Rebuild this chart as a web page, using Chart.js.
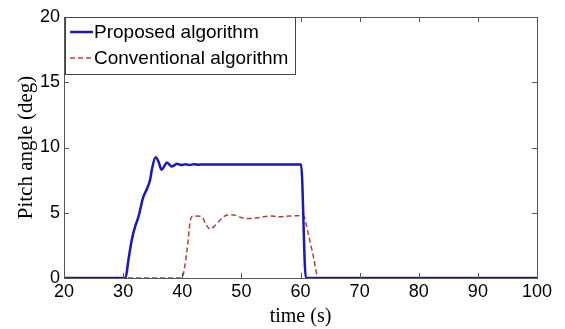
<!DOCTYPE html>
<html>
<head>
<meta charset="utf-8">
<script src="https://cdn.jsdelivr.net/npm/chart.js@4/dist/chart.umd.min.js"></script>
<style>
html,body{margin:0;padding:0;background:#fff;}
#wrap{width:565px;height:329px;position:relative;}
</style>
</head>
<body>
<div id="wrap"><canvas id="c" width="565" height="329"></canvas></div>
<script>
// ---- data ----
const seriesNames = ["Proposed algorithm", "Conventional algorithm"];
const timeProposed = [20, 30.4, 30.9, 31.45, 32.0, 32.6, 33.4, 34.0, 34.55, 34.9, 35.5, 36.0, 36.5, 37.0, 37.4, 37.8, 38.2, 38.7, 39.1, 39.5, 39.9, 40.5, 41.2, 42.0, 42.8, 43.5, 45, 50, 55, 60.1, 60.9, 100];
const valueProposed = [0, 0, 1.4, 2.9, 3.9, 4.7, 6.2, 6.8, 7.5, 8.4, 9.25, 8.9, 8.3, 8.6, 8.85, 8.7, 8.55, 8.65, 8.75, 8.7, 8.65, 8.72, 8.66, 8.72, 8.68, 8.7, 8.7, 8.7, 8.7, 8.7, 0, 0];
const timeConventional = [20, 39.9, 40.8, 41.3, 41.6, 42.2, 43.3, 44.0, 44.7, 45.5, 46.4, 47.2, 48.1, 49.0, 49.8, 51.5, 53.2, 54.9, 56.5, 58, 60.5, 61.3, 62.2, 63.0, 100];
const valueConventional = [0, 0, 2.1, 4.2, 4.7, 4.75, 4.7, 4.1, 3.75, 4.0, 4.45, 4.75, 4.85, 4.8, 4.65, 4.55, 4.65, 4.75, 4.7, 4.75, 4.77, 3.4, 1.6, 0, 0];
const xTicks = [20, 30, 40, 50, 60, 70, 80, 90, 100];
const yTicks = [0, 5, 10, 15, 20];
const xTitle = "time (s)";
const yTitle = "Pitch angle (deg)";

const toPts = (xs, ys) => xs.map((x, i) => ({x: x, y: ys[i]}));

const boxPlugin = {
  id: 'boxPlugin',
  afterDatasetsDraw(chart) {
    const {ctx, chartArea: a, scales} = chart;
    ctx.save();
    ctx.strokeStyle = '#555';
    ctx.lineWidth = 1;
    ctx.strokeRect(a.left + 0.5, a.top + 0.5, a.right - a.left, a.bottom - a.top);
    const tl = 5;
    ctx.beginPath();
    xTicks.forEach(v => {
      const px = Math.round(scales.x.getPixelForValue(v)) + 0.5;
      ctx.moveTo(px, a.bottom); ctx.lineTo(px, a.bottom - tl);
      ctx.moveTo(px, a.top); ctx.lineTo(px, a.top + tl);
    });
    yTicks.forEach(v => {
      const py = Math.round(scales.y.getPixelForValue(v)) + 0.5;
      ctx.moveTo(a.left, py); ctx.lineTo(a.left + tl, py);
      ctx.moveTo(a.right, py); ctx.lineTo(a.right - tl, py);
    });
    ctx.stroke();
    // legend box
    const lx = a.left + 1, ly = a.top, lw = 230, lh = 57;
    ctx.fillStyle = '#fff';
    ctx.fillRect(lx, ly, lw, lh);
    ctx.strokeStyle = '#444';
    ctx.strokeRect(lx + 0.5, ly + 0.5, lw, lh);
    ctx.font = '19px "Liberation Sans", Arial, sans-serif';
    ctx.textBaseline = 'middle';
    ctx.fillStyle = '#000';
    chart.data.datasets.forEach((ds, i) => {
      const yy = ly + 15 + i * 26;
      ctx.save();
      ctx.strokeStyle = ds.borderColor;
      ctx.lineWidth = ds.borderWidth;
      ctx.setLineDash(ds.borderDash || []);
      ctx.beginPath();
      ctx.moveTo(lx + 5, yy); ctx.lineTo(lx + 28, yy);
      ctx.stroke();
      ctx.restore();
      ctx.fillText(ds.label, lx + 29, yy + 1);
    });
    ctx.restore();
  }
};

new Chart(document.getElementById('c'), {
  type: 'line',
  data: {
    datasets: [
      {label: seriesNames[0], data: toPts(timeProposed, valueProposed), borderColor: '#1818bb', borderWidth: 2.5, pointRadius: 0, cubicInterpolationMode: 'monotone', fill: false},
      {label: seriesNames[1], data: toPts(timeConventional, valueConventional), borderColor: '#b83c36', borderWidth: 1.5, borderDash: [5, 3], pointRadius: 0, cubicInterpolationMode: 'monotone', fill: false}
    ]
  },
  options: {
    responsive: false,
    animation: false,
    events: [],
    layout: {padding: {left: 0, right: 28, top: 17, bottom: 0}},
    plugins: {legend: {display: false}, tooltip: {enabled: false}},
    scales: {
      x: {
        type: 'linear', min: 20, max: 100,
        afterBuildTicks: s => { s.ticks = xTicks.map(v => ({value: v})); },
        afterFit: s => { s.height = 51; },
        grid: {display: false, drawTicks: false},
        border: {display: false},
        ticks: {color: '#000', padding: 3, maxRotation: 0, font: {family: '"Liberation Sans", Arial, sans-serif', size: 18}},
        title: {display: true, text: xTitle, color: '#000', padding: {top: 0, bottom: 0}, font: {family: '"Liberation Serif", "Times New Roman", serif', size: 20}}
      },
      y: {
        type: 'linear', min: 0, max: 20,
        afterBuildTicks: s => { s.ticks = yTicks.map(v => ({value: v})); },
        afterFit: s => { s.width = 64; },
        grid: {display: false, drawTicks: false},
        border: {display: false},
        ticks: {color: '#000', padding: 4, font: {family: '"Liberation Sans", Arial, sans-serif', size: 18}},
        title: {display: true, text: yTitle, color: '#000', padding: {top: 14, bottom: 0}, font: {family: '"Liberation Serif", "Times New Roman", serif', size: 21}}
      }
    }
  },
  plugins: [boxPlugin]
});
</script>
</body>
</html>
